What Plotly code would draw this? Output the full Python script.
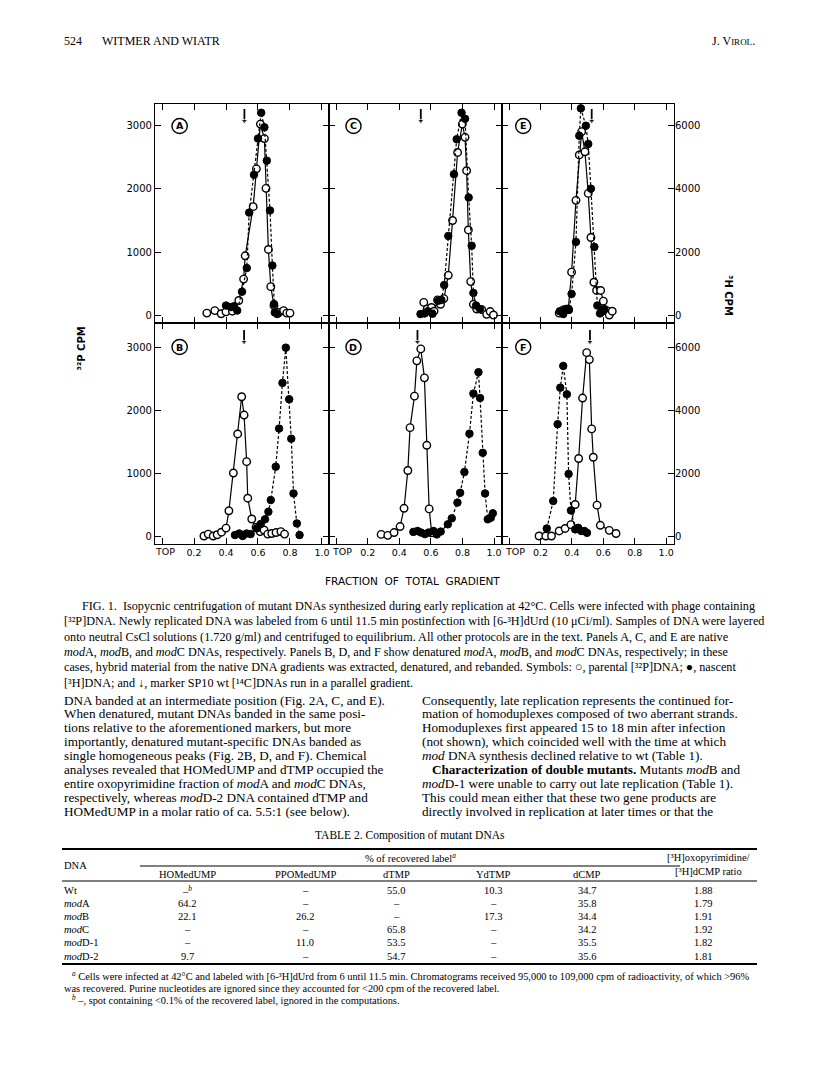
import plotly.graph_objects as go

# page is 816x1076; the browser adds an 8 px body margin, so the figure is 808x1068
PAGE_OFF = 8
W, H = 816 - PAGE_OFF, 1076 - PAGE_OFF

# ---- data (open = parental 32P, left scale; filled = nascent 3H, right scale)
a_open_x = [0.28, 0.33, 0.37, 0.40, 0.44, 0.48, 0.51, 0.52, 0.57, 0.59, 0.615, 0.64, 0.65, 0.665, 0.68, 0.70, 0.73, 0.76, 0.78, 0.80]
a_open_y = [30, 70, 20, 50, 60, 230, 570, 940, 1720, 2320, 3030, 2800, 2010, 1040, 450, 150, 40, 70, 30, 30]
a_fill_x = [0.40, 0.43, 0.45, 0.47, 0.50, 0.53, 0.545, 0.575, 0.60, 0.62, 0.64, 0.655, 0.675, 0.69, 0.70, 0.705, 0.72]
a_fill_y = [300, 250, 280, 140, 740, 1490, 3250, 4450, 5600, 6420, 5960, 4900, 3320, 1570, 350, 80, 30]

c_open_x = [0.555, 0.576, 0.604, 0.62, 0.642, 0.661, 0.682, 0.71, 0.737, 0.769, 0.799, 0.816, 0.826, 0.837, 0.852, 0.869, 0.89, 0.922, 0.953, 0.975, 0.996]
c_open_y = [200, 95, 120, 60, 240, 170, 260, 630, 1500, 2580, 3030, 2820, 2290, 1350, 530, 170, 95, 85, 10, 55, 0]
c_fill_x = [0.534, 0.56, 0.58, 0.61, 0.646, 0.666, 0.684, 0.71, 0.746, 0.763, 0.794, 0.816, 0.839, 0.858, 0.869, 0.886, 0.911]
c_fill_y = [30, 50, 120, 40, 450, 480, 950, 2510, 4470, 5580, 6420, 6230, 3730, 2200, 700, 300, 190]

e_open_x = [0.319, 0.345, 0.377, 0.398, 0.426, 0.447, 0.462, 0.483, 0.504, 0.521, 0.54, 0.557, 0.583, 0.6, 0.621, 0.638, 0.657]
e_open_y = [30, 80, 95, 680, 1820, 2540, 2910, 2590, 1930, 1230, 520, 390, 390, 220, 70, 0, 60]
e_fill_x = [0.323, 0.345, 0.362, 0.381, 0.398, 0.426, 0.447, 0.457, 0.489, 0.504, 0.521, 0.543, 0.562, 0.579, 0.594, 0.606]
e_fill_y = [120, 30, 190, 160, 670, 2320, 5690, 6560, 6010, 5430, 4010, 2160, 300, 50, 110, 190]

b_open_x = [0.262, 0.289, 0.32, 0.345, 0.372, 0.40, 0.418, 0.446, 0.473, 0.498, 0.513, 0.529, 0.536, 0.561, 0.588, 0.613, 0.638, 0.661, 0.686, 0.713, 0.743, 0.766]
b_open_y = [0, 30, 0, 20, 60, 125, 400, 1000, 1620, 2210, 1920, 1180, 600, 270, 140, 70, 95, 30, 40, 55, 70, 30]
b_fill_x = [0.456, 0.483, 0.504, 0.529, 0.554, 0.592, 0.617, 0.644, 0.665, 0.68, 0.711, 0.732, 0.753, 0.774, 0.795, 0.808, 0.822, 0.843, 0.86]
b_fill_y = [30, 80, 0, 80, 60, 240, 380, 530, 770, 1140, 2200, 3410, 4860, 5980, 4340, 3090, 1350, 400, 30]

d_open_x = [0.285, 0.327, 0.367, 0.405, 0.43, 0.454, 0.468, 0.496, 0.511, 0.536, 0.559, 0.574, 0.589, 0.605]
d_open_y = [25, 10, 55, 150, 440, 1040, 1720, 2220, 2780, 2970, 2510, 1440, 430, 50]
d_fill_x = [0.489, 0.515, 0.537, 0.562, 0.585, 0.616, 0.637, 0.662, 0.707, 0.732, 0.768, 0.785, 0.812, 0.844, 0.869, 0.901, 0.911, 0.928, 0.943, 0.96, 0.979, 0.992]
d_fill_y = [130, 160, 110, 60, 110, 160, 50, 140, 370, 560, 1060, 1370, 2030, 3250, 4520, 5200, 4380, 2640, 1350, 530, 580, 720]

f_open_x = [0.191, 0.234, 0.27, 0.319, 0.357, 0.394, 0.421, 0.443, 0.468, 0.494, 0.511, 0.526, 0.536, 0.56, 0.581, 0.638, 0.681]
f_open_y = [0, 0, 0, 80, 120, 180, 500, 1230, 2190, 2910, 2800, 1700, 1250, 490, 170, 90, 40]
f_fill_x = [0.24, 0.281, 0.309, 0.326, 0.345, 0.368, 0.379, 0.394, 0.421, 0.44, 0.46, 0.479, 0.496]
f_fill_y = [240, 1110, 3550, 4710, 5400, 4500, 1970, 810, 210, 260, 160, 160, 100]

panel_letters = ["A", "C", "E", "B", "D", "F"]
marker_pos = [0.515, 0.536, 0.526, 0.513, 0.515, 0.515]   # SP10 wt [14C] marker
x_ticks = [0.2, 0.4, 0.6, 0.8, 1.0]
x_ticktext = ["0.2", "0.4", "0.6", "0.8", "1.0"]
p32_ticks = [0, 1000, 2000, 3000]
h3_ticks = [0, 2000, 4000, 6000]

panels = [
    (a_open_x, a_open_y, a_fill_x, a_fill_y),
    (c_open_x, c_open_y, c_fill_x, c_fill_y),
    (e_open_x, e_open_y, e_fill_x, e_fill_y),
    (b_open_x, b_open_y, b_fill_x, b_fill_y),
    (d_open_x, d_open_y, d_fill_x, d_fill_y),
    (f_open_x, f_open_y, f_fill_x, f_fill_y),
]

# ---- page text
caption = [
    "FIG. 1.  Isopycnic centrifugation of mutant DNAs synthesized during early replication at 42°C. Cells were infected with phage containing",
    "[³²P]DNA. Newly replicated DNA was labeled from 6 until 11.5 min postinfection with [6-³H]dUrd (10 μCi/ml). Samples of DNA were layered",
    "onto neutral CsCl solutions (1.720 g/ml) and centrifuged to equilibrium. All other protocols are in the text. Panels A, C, and E are native",
    "<i>mod</i>A, <i>mod</i>B, and <i>mod</i>C DNAs, respectively. Panels B, D, and F show denatured <i>mod</i>A, <i>mod</i>B, and <i>mod</i>C DNAs, respectively; in these",
    "cases, hybrid material from the native DNA gradients was extracted, denatured, and rebanded. Symbols: ○, parental [³²P]DNA; ●, nascent",
    "[³H]DNA; and ↓, marker SP10 wt [¹⁴C]DNAs run in a parallel gradient.",
]
left_col = [
    "DNA banded at an intermediate position (Fig. 2A, C, and E).",
    "When denatured, mutant DNAs banded in the same posi-",
    "tions relative to the aforementioned markers, but more",
    "importantly, denatured mutant-specific DNAs banded as",
    "single homogeneous peaks (Fig. 2B, D, and F). Chemical",
    "analyses revealed that HOMedUMP and dTMP occupied the",
    "entire oxopyrimidine fraction of <i>mod</i>A and <i>mod</i>C DNAs,",
    "respectively, whereas <i>mod</i>D-2 DNA contained dTMP and",
    "HOMedUMP in a molar ratio of ca. 5.5:1 (see below).",
]
right_col = [
    "Consequently, late replication represents the continued for-",
    "mation of homoduplexes composed of two aberrant strands.",
    "Homoduplexes first appeared 15 to 18 min after infection",
    "(not shown), which coincided well with the time at which",
    "<i>mod</i> DNA synthesis declined relative to wt (Table 1).",
    "   <b>Characterization of double mutants.</b> Mutants <i>mod</i>B and",
    "<i>mod</i>D-1 were unable to carry out late replication (Table 1).",
    "This could mean either that these two gene products are",
    "directly involved in replication at later times or that the",
]
tbl_dna = ["Wt", "<i>mod</i>A", "<i>mod</i>B", "<i>mod</i>C", "<i>mod</i>D-1", "<i>mod</i>D-2"]
tbl_homedump = ["–<sup><i>b</i></sup>", "64.2", "22.1", "–", "–", "9.7"]
tbl_ppomedump = ["–", "–", "26.2", "–", "11.0", "–"]
tbl_dtmp = ["55.0", "–", "–", "65.8", "53.5", "54.7"]
tbl_ydtmp = ["10.3", "–", "17.3", "–", "–", "–"]
tbl_dcmp = ["34.7", "35.8", "34.4", "34.2", "35.5", "35.6"]
tbl_ratio = ["1.88", "1.79", "1.91", "1.92", "1.82", "1.81"]
tbl_heads = ["HOMedUMP", "PPOMedUMP", "dTMP", "YdTMP", "dCMP"]
footnotes = [
    "<sup><i>a</i></sup> Cells were infected at 42°C and labeled with [6-³H]dUrd from 6 until 11.5 min. Chromatograms received 95,000 to 109,000 cpm of radioactivity, of which &gt;96%",
    "was recovered. Purine nucleotides are ignored since they accounted for &lt;200 cpm of the recovered label.",
    "<sup><i>b</i></sup> –, spot containing &lt;0.1% of the recovered label, ignored in the computations.",
]


def px(x):
    return (x - PAGE_OFF) / W


def py(y):
    return 1 - (y - PAGE_OFF) / H


SERIF = "Liberation Serif"
SANS = "DejaVu Sans"

cols = [(155, 329), (329, 502), (502, 674)]
rows = [(104, 323), (323, 544)]
xranges = [[-0.044, 1.044], [-0.045, 1.05], [-0.045, 1.05]]
yranges = [[-127, 3349], [-127, 3381]]
top_shift = [3, 6, 6]

fig = go.Figure()
layout = {}
annotations = []
shapes = []

for i, (ox, oy, fx, fy) in enumerate(panels):
    r, c = divmod(i, 3)
    n = i + 1
    xa = "x" if n == 1 else f"x{n}"
    yl_n = 2 * n - 1
    yr_n = 2 * n
    yl = "y" if yl_n == 1 else f"y{yl_n}"
    yr = f"y{yr_n}"

    fig.add_trace(go.Scatter(
        x=fx, y=fy, xaxis=xa, yaxis=yr, mode="lines+markers",
        line=dict(color="black", width=1.2, dash="3px,2px"),
        marker=dict(color="black", size=7.5, line=dict(color="black", width=1))))
    fig.add_trace(go.Scatter(
        x=ox, y=oy, xaxis=xa, yaxis=yl, mode="lines+markers",
        line=dict(color="black", width=1.2),
        marker=dict(color="white", size=7.5, line=dict(color="black", width=1.4))))
    # marker arrow
    fig.add_trace(go.Scatter(
        x=[marker_pos[i], marker_pos[i]], y=[3080, 3270], xaxis=xa, yaxis=yl,
        mode="lines+markers", line=dict(color="black", width=1.8),
        marker=dict(symbol="triangle-down", size=[6, 0], color="black")))

    layout["xaxis" if n == 1 else f"xaxis{n}"] = dict(
        domain=[px(cols[c][0]), px(cols[c][1])], anchor=yl, range=xranges[c],
        tickvals=x_ticks, ticktext=x_ticktext, ticks="inside", ticklen=6,
        tickwidth=1.3, tickcolor="black", showline=True, linecolor="black",
        linewidth=1.1, mirror="ticks", showgrid=False, zeroline=False,
        minor=dict(tickvals=[0], ticks="inside", ticklen=6, tickwidth=1.3,
                   tickcolor="black", showgrid=False),
        showticklabels=(r == 1), tickfont=dict(family=SANS, size=9.5, color="black"))
    layout["yaxis" if yl_n == 1 else f"yaxis{yl_n}"] = dict(
        domain=[py(rows[r][1]), py(rows[r][0])], anchor=xa, range=yranges[r],
        tickvals=p32_ticks, ticktext=[str(v) for v in p32_ticks], ticks="inside",
        ticklen=6, tickwidth=1.3, tickcolor="black", showline=True,
        linecolor="black", linewidth=1.1, mirror="ticks", showgrid=False,
        zeroline=False, showticklabels=(c == 0),
        tickfont=dict(family=SANS, size=10, color="black"))
    layout[f"yaxis{yr_n}"] = dict(
        overlaying=yl, side="right", anchor=xa,
        range=[2 * v for v in yranges[r]], tickvals=h3_ticks,
        ticktext=[str(v) for v in h3_ticks], ticks="", showline=False,
        showgrid=False, zeroline=False, showticklabels=(c == 2),
        tickfont=dict(family=SANS, size=10, color="black"))

    # circled panel letter
    xc = 0.11 if c < 2 else 0.09
    annotations.append(dict(
        x=xc, y=3000, xref=xa, yref=yl, text=f"<b>{panel_letters[i]}</b>",
        showarrow=False, font=dict(family=SANS, size=9.5, color="black")))
    shapes.append(dict(type="circle", xref=xa, yref=yl, x0=xc - 0.048, x1=xc + 0.048,
                       y0=3000 - 120, y1=3000 + 120, line=dict(color="black", width=1.4)))

    # "TOP" label at the zero end of the bottom axes
    if r == 1:
        x0p, x1p = cols[c]
        zero_px = x0p + (0 - xranges[c][0]) / (xranges[c][1] - xranges[c][0]) * (x1p - x0p)
        annotations.append(dict(
            x=px(zero_px + top_shift[c]), y=py(551), xref="paper", yref="paper",
            text="TOP", showarrow=False, xanchor="center", yanchor="middle",
            font=dict(family=SANS, size=9.5, color="black")))

# axis titles
annotations.append(dict(x=px(73), y=py(325), xref="paper", yref="paper",
                        text="<b>³²P CPM</b>", textangle=-90, showarrow=False,
                        font=dict(family=SANS, size=10, color="black")))
annotations.append(dict(x=px(736), y=py(273), xref="paper", yref="paper",
                        text="<b>³H CPM</b>", textangle=90, showarrow=False,
                        font=dict(family=SANS, size=10, color="black")))
annotations.append(dict(x=px(412), y=py(581), xref="paper", yref="paper",
                        text="FRACTION  OF  TOTAL  GRADIENT", showarrow=False,
                        font=dict(family=SANS, size=10.5, color="black")))


def line(x, y, text, size, anchor="left", family=SERIF):
    annotations.append(dict(x=px(x), y=py(y), xref="paper", yref="paper",
                            xanchor=anchor, yanchor="middle", text=text,
                            showarrow=False,
                            font=dict(family=family, size=size, color="black")))


# header
line(62, 41, "524", 12)
line(100, 41, "WITMER AND WIATR", 12)
line(757, 41, "J. V<span style='font-size:9px'>IROL</span>.", 12, anchor="right")

# caption
for k, t in enumerate(caption):
    line(80 if k == 0 else 62, 606 + k * 15.3, t, 12.2)

# body columns
for k, t in enumerate(left_col):
    line(62, 700 + k * 13.9, t, 13.2)
for k, t in enumerate(right_col):
    line(420, 700 + k * 13.9, t, 13.2)

# table
line(410, 835, "TABLE 2. Composition of mutant DNAs", 11.5, anchor="center")
line(410, 858, "% of recovered label<sup><i>a</i></sup>", 10.5, anchor="center")
line(62, 865, "DNA", 10.5)
line(708, 857, "[³H]oxopyrimidine/", 10.5, anchor="center")
line(708, 871, "[³H]dCMP ratio", 10.5, anchor="center")
col_x = [187, 305, 396, 493, 587]
for cx, hd in zip(col_x, tbl_heads):
    line(cx, 874, hd, 10.5, anchor="center")
tbl_cols = [tbl_homedump, tbl_ppomedump, tbl_dtmp, tbl_ydtmp, tbl_dcmp]
for k in range(len(tbl_dna)):
    yy = 890 + k * 13.2
    line(62, yy, tbl_dna[k], 10.5)
    for cx, colvals in zip(col_x, tbl_cols):
        line(cx, yy, colvals[k], 10.5, anchor="center")
    line(703, yy, tbl_ratio[k], 10.5, anchor="center")

line(70, 976, footnotes[0], 10.4)
line(62, 988, footnotes[1], 10.4)
line(70, 1000, footnotes[2], 10.4)

for (x0, x1, yy, wd) in [(62, 757, 849, 2), (140, 680, 866, 1), (62, 757, 881, 1.2), (62, 757, 964, 2)]:
    shapes.append(dict(type="line", xref="paper", yref="paper", x0=px(x0), x1=px(x1),
                       y0=py(yy), y1=py(yy), line=dict(color="black", width=wd)))

layout.update(
    width=W, height=H, margin=dict(l=0, r=0, t=0, b=0),
    paper_bgcolor="white", plot_bgcolor="white", showlegend=False,
    annotations=annotations, shapes=shapes,
)
fig.update_layout(**layout)
fig.write_html("out.html")
